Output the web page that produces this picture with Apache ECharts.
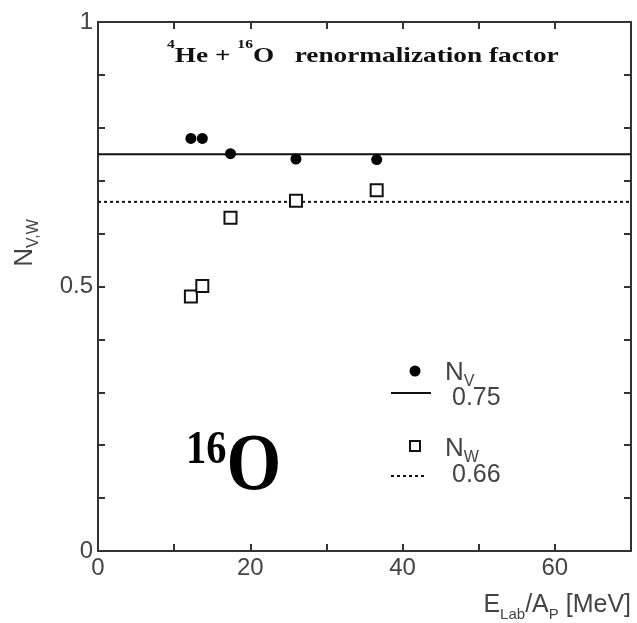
<!DOCTYPE html>
<html>
<head>
<meta charset="utf-8">
<script src="https://cdn.jsdelivr.net/npm/echarts@6/dist/echarts.min.js"></script>
<style>html,body{margin:0;padding:0;background:#fff;}#c{width:637px;height:623px;}</style>
</head>
<body>
<div id="c"></div>
<script>
// ---- data ----
const energies = [12.2, 13.7, 17.4, 26.0, 36.6];      // E_Lab/A_P [MeV]
const nV = [0.780, 0.780, 0.751, 0.741, 0.740];        // N_V points
const nW = [0.481, 0.501, 0.630, 0.662, 0.682];        // N_W points
const fitV = 0.75;                                     // average N_V
const fitW = 0.66;                                     // average N_W
const xRange = [0, 70];
const yRange = [0, 1];
const xTickLabels = [0, 20, 40, 60];
const yTickLabels = ['0', '0.5', '1'];

const chart = echarts.init(document.getElementById('c'), null, {renderer: 'canvas'});
const axisColor = '#333';
const sans = '"Liberation Sans", Arial, sans-serif';
const serif = '"Liberation Serif", "Times New Roman", serif';

function baseAxis(extra) {
  return Object.assign({
    axisLine: {show: true, onZero: false, lineStyle: {color: axisColor, width: 2}},
    axisTick: {show: true, inside: true, length: 7, lineStyle: {color: axisColor, width: 2}},
    splitLine: {show: false},
    minorTick: {show: false}
  }, extra);
}

const option = {
  animation: false,
  backgroundColor: '#fff',
  grid: {left: 98, right: 6, top: 22, bottom: 72},
  xAxis: [
    baseAxis({type: 'value', min: xRange[0], max: xRange[1], interval: 10, position: 'bottom',
      axisLabel: {show: true, margin: 5, color: '#444', fontSize: 24, fontFamily: sans,
        formatter: v => xTickLabels.indexOf(v) >= 0 ? String(v) : ''}}),
    baseAxis({type: 'value', min: xRange[0], max: xRange[1], interval: 10, position: 'top',
      axisLabel: {show: false}})
  ],
  yAxis: [
    baseAxis({type: 'value', min: yRange[0], max: yRange[1], interval: 0.1, position: 'left',
      axisLabel: {show: true, margin: 5, color: '#444', fontSize: 24, fontFamily: sans,
        formatter: v => { const s = String(Math.round(v * 10) / 10); return yTickLabels.indexOf(s) >= 0 ? s : ''; }}}),
    baseAxis({type: 'value', min: yRange[0], max: yRange[1], interval: 0.1, position: 'right',
      axisLabel: {show: false}})
  ],
  series: [
    {type: 'line', data: [[xRange[0], fitV], [xRange[1], fitV]], symbol: 'none',
      lineStyle: {color: '#111', width: 2, type: 'solid'}, z: 2},
    {type: 'line', data: [[xRange[0], fitW], [xRange[1], fitW]], symbol: 'none',
      lineStyle: {color: '#111', width: 2, type: [3, 3]}, z: 2},
    {type: 'scatter', data: energies.map((e, i) => [e, nV[i]]), symbol: 'circle', symbolSize: 11,
      itemStyle: {color: '#000', opacity: 1}, z: 3},
    {type: 'scatter', data: energies.map((e, i) => [e, nW[i]]), symbol: 'rect', symbolSize: 12,
      itemStyle: {color: '#fff', borderColor: '#111', borderWidth: 2, opacity: 1}, z: 3}
  ],
  graphic: [
    // title
    {type: 'text', x: 167, y: 57, scaleX: 1.3, z: 10,
      style: {text: '{s|4}{m|He + }{s|16}{m|O   renormalization factor}', verticalAlign: 'middle', align: 'left',
        rich: {
          s: {fontSize: 12, fontWeight: 'bold', fontFamily: serif, fill: '#111', lineHeight: 12, verticalAlign: 'top'},
          m: {fontSize: 21, fontWeight: 'bold', fontFamily: serif, fill: '#111', lineHeight: 36}
        }}},
    // 16O label
    {type: 'text', x: 186, y: 468, scaleX: 0.88, z: 10,
      style: {text: '{s|16}{m|O}', verticalAlign: 'middle', align: 'left',
        rich: {
          s: {fontSize: 46, fontWeight: 'bold', fontFamily: serif, fill: '#000', lineHeight: 46, verticalAlign: 'top'},
          m: {fontSize: 80, fontWeight: 'bold', fontFamily: serif, fill: '#000', lineHeight: 80}
        }}},
    // y axis title
    {type: 'text', x: 25, y: 243, rotation: Math.PI / 2, z: 10,
      style: {text: '{m|N}{s|V,W}', align: 'center', verticalAlign: 'middle',
        rich: {
          m: {fontSize: 26, fontFamily: sans, fill: '#444', lineHeight: 34},
          s: {fontSize: 16, fontFamily: sans, fill: '#444', lineHeight: 14, verticalAlign: 'bottom'}
        }}},
    // x axis title
    {type: 'text', x: 631, y: 605, z: 10,
      style: {text: '{m|E}{s|Lab}{m|/A}{s|P}{m| [MeV]}', align: 'right', verticalAlign: 'middle',
        rich: {
          m: {fontSize: 25, fontFamily: sans, fill: '#444', lineHeight: 34},
          s: {fontSize: 15, fontFamily: sans, fill: '#444', lineHeight: 14, verticalAlign: 'bottom'}
        }}},
    // legend
    {type: 'circle', shape: {cx: 415, cy: 371, r: 5.5}, style: {fill: '#000'}, z: 10},
    {type: 'text', x: 445, y: 373, z: 10,
      style: {text: '{m|N}{s|V}', align: 'left', verticalAlign: 'middle',
        rich: {
          m: {fontSize: 26, fontFamily: sans, fill: '#444', lineHeight: 34},
          s: {fontSize: 16, fontFamily: sans, fill: '#444', lineHeight: 14, verticalAlign: 'bottom'}
        }}},
    {type: 'line', shape: {x1: 391, y1: 393, x2: 431, y2: 393}, style: {stroke: '#111', lineWidth: 2}, z: 10},
    {type: 'text', x: 452, y: 398, z: 10,
      style: {text: '0.75', align: 'left', verticalAlign: 'middle', fontSize: 25, fontFamily: sans, fill: '#444'}},
    {type: 'rect', shape: {x: 410, y: 441, width: 10, height: 10}, style: {fill: '#fff', stroke: '#111', lineWidth: 2}, z: 10},
    {type: 'text', x: 445, y: 449, z: 10,
      style: {text: '{m|N}{s|W}', align: 'left', verticalAlign: 'middle',
        rich: {
          m: {fontSize: 26, fontFamily: sans, fill: '#444', lineHeight: 34},
          s: {fontSize: 16, fontFamily: sans, fill: '#444', lineHeight: 14, verticalAlign: 'bottom'}
        }}},
    {type: 'line', shape: {x1: 391, y1: 476, x2: 427, y2: 476}, style: {stroke: '#111', lineWidth: 2, lineDash: [3, 3]}, z: 10},
    {type: 'text', x: 452, y: 475, z: 10,
      style: {text: '0.66', align: 'left', verticalAlign: 'middle', fontSize: 25, fontFamily: sans, fill: '#444'}}
  ]
};
chart.setOption(option);
</script>
</body>
</html>
